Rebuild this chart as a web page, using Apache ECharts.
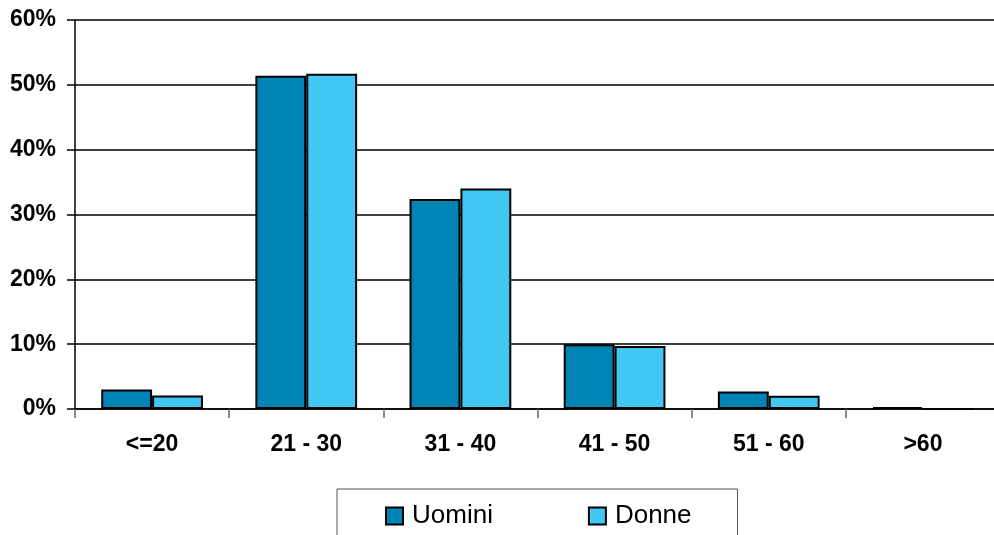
<!DOCTYPE html>
<html>
<head>
<meta charset="utf-8">
<script src="https://cdn.jsdelivr.net/npm/echarts@6/dist/echarts.min.js"></script>
<style>
  html, body { margin: 0; padding: 0; background: #fff; }
  #chart { width: 994px; height: 535px; }
</style>
</head>
<body>
<div id="chart"></div>
<script>
const categories = ['<=20', '21 - 30', '31 - 40', '41 - 50', '51 - 60', '>60']
const uomini = [3.0, 51.4, 32.4, 10.0, 2.7, 0.3]
const donne = [2.1, 51.7, 34.0, 9.7, 2.05, 0]
const yTicks = { min: 0, max: 60, interval: 10 }

const FONT = '"Liberation Sans", Arial, sans-serif'
const chart = echarts.init(document.getElementById('chart'))

chart.setOption({
  animation: false,
  textStyle: { fontFamily: FONT },
  // plot runs a little past the right edge, like the original
  grid: { left: 75, width: 925, top: 20, bottom: 126, outerBoundsMode: 'none' },
  legend: {
    left: 337,
    top: 489,
    padding: [14, 46, 31, 48],
    itemGap: 95,
    itemWidth: 17,
    itemHeight: 17,
    icon: 'rect',
    borderColor: '#555',
    borderWidth: 1,
    textStyle: { fontSize: 26, color: '#000', fontFamily: FONT, padding: [0, 0, 0, 4] },
    data: ['Uomini', 'Donne'],
  },
  xAxis: {
    type: 'category',
    data: categories,
    axisLine: { lineStyle: { color: '#000', width: 1.5 } },
    axisTick: { show: true, length: 9, lineStyle: { color: '#666', width: 1.5 } },
    axisLabel: { fontSize: 23, fontWeight: 'bold', color: '#000', margin: 24 },
  },
  yAxis: {
    type: 'value',
    min: yTicks.min,
    max: yTicks.max,
    interval: yTicks.interval,
    axisLine: { show: true, lineStyle: { color: '#000', width: 1.5 } },
    axisTick: { show: true, length: 8, lineStyle: { color: '#000', width: 1.5 } },
    axisLabel: { fontSize: 23, fontWeight: 'bold', color: '#000', margin: 19, formatter: '{value}%' },
    splitLine: { lineStyle: { color: '#000', width: 1.5 } },
  },
  series: [
    {
      name: 'Uomini',
      type: 'bar',
      data: uomini,
      barGap: '0%',
      barCategoryGap: '34%',
      itemStyle: { color: '#0084B6', borderColor: '#000', borderWidth: 2 },
    },
    {
      name: 'Donne',
      type: 'bar',
      data: donne,
      itemStyle: { color: '#41C7F2', borderColor: '#000', borderWidth: 2 },
    },
  ],
})
</script>
</body>
</html>
